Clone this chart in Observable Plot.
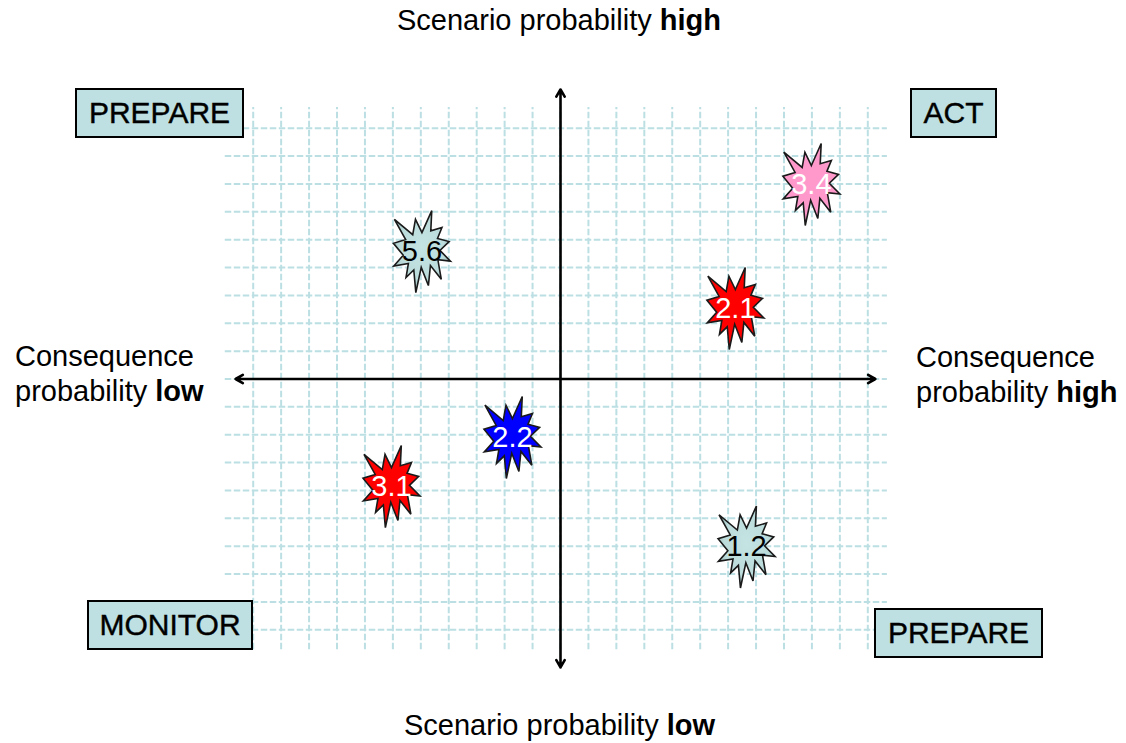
<!DOCTYPE html>
<html><head><meta charset="utf-8">
<script src="https://cdn.jsdelivr.net/npm/d3@7"></script>
<script src="https://cdn.jsdelivr.net/npm/@observablehq/plot@0.6"></script>
<style>
html,body{margin:0;padding:0;background:#fff;}
#wrap{position:relative;width:1126px;height:743px;overflow:hidden;font-family:"Liberation Sans",Arial,sans-serif;color:#000;}
#wrap svg{position:absolute;left:0;top:0;}
.t{position:absolute;white-space:nowrap;font-size:29px;line-height:35px;}
.box{position:absolute;box-sizing:border-box;background:#bee0e2;border:2px solid #000;display:flex;align-items:center;justify-content:center;font-size:30px;line-height:1;-webkit-text-stroke:0.4px #000;}
</style></head><body><div id="wrap"></div>
<script>
// Scenario points (consequence probability on x, scenario probability on y, in grid units)
const labels      = ["5.6", "3.4", "2.1", "2.2", "3.1", "1.2"];
const consequence = [-4.96, 8.98, 6.26, -1.72, -6.05, 6.66];
const scenario    = [4.57, 6.98, 2.53, -2.10, -3.86, -6.03];
const fills       = ["url(#lightBurst)", "#ff99cc", "#ff0000", "#0000ff", "#ff0000", "url(#lightBurst)"];
const inks        = ["#000", "#fff", "#fff", "#fff", "#fff", "#000"];
// Grid lines
const gridX = [-11,-10,-9,-8,-7,-6,-5,-4,-3,-2,-1,0,1,2,3,4,5,6,7,8,9,10,11];
const gridY = [-9,-8,-7,-6,-5,-4,-3,-2,-1,0,1,2,3,4,5,6,7,8,9];
// Quadrant labels
const quadrants = ["PREPARE", "ACT", "MONITOR", "PREPARE"];
// Axis titles
const topTitle = ["Scenario probability ", "high"];
const bottomTitle = ["Scenario probability ", "low"];
const leftTitle = ["Consequence", "probability ", "low"];
const rightTitle = ["Consequence", "probability ", "high"];

const data = labels.map((label, i) => ({label, x: consequence[i], y: scenario[i], fill: fills[i], ink: inks[i]}));

// "Explosion" burst outline (normalized 21600 units)
const seal = [[10800,5800],[14522,0],[14155,5325],[18380,4457],[16702,7315],[21097,8137],[17607,10475],[21600,13290],[16837,12942],[18145,18095],[14020,14457],[13247,19737],[10532,14935],[8485,21600],[7715,15627],[4762,17617],[5667,13937],[135,14587],[3722,11775],[0,8615],[4627,7617],[370,2295],[7312,6320],[8352,2295]];
const burst = {
  draw(ctx, size) {
    const r = Math.sqrt(size / Math.PI);
    const h = 2 * r, w = h * 0.695;
    seal.forEach(([px, py], i) => {
      const X = (px / 21600 - 0.5) * w, Y = (py / 21600 - 0.5) * h;
      if (i) ctx.lineTo(X, Y); else ctx.moveTo(X, Y);
    });
    ctx.closePath();
  }
};

const axisArrows = [
  {x1: 0, y1: 0, x2: 11.27, y2: 0},
  {x1: 0, y1: 0, x2: -11.63, y2: 0},
  {x1: 0, y1: 0, x2: 0, y2: 10.39},
  {x1: 0, y1: 0, x2: 0, y2: -10.35}
];

const chart = Plot.plot({
  width: 1126, height: 743, margin: 0,
  x: {domain: [-11, 11], range: [252.7, 867.3], axis: null},
  y: {domain: [-9, 9], range: [629.3, 127.7], axis: null},
  color: {type: "identity"},
  style: {background: "transparent", fontFamily: "Liberation Sans, Arial, sans-serif"},
  marks: [
    Plot.ruleX(gridX, {x: d => d, y1: -9.72, y2: 9.74, stroke: "#bcdfe3", strokeWidth: 2, strokeDasharray: "6.5,2.5"}),
    Plot.ruleY(gridY, {y: d => d, x1: -12.0, x2: 11.7, stroke: "#bcdfe3", strokeWidth: 2, strokeDasharray: "6.5,2.5"}),
    Plot.arrow(axisArrows, {x1: "x1", y1: "y1", x2: "x2", y2: "y2", stroke: "#000", strokeWidth: 2.6, headLength: 4.8}),
    Plot.dot(data, {x: "x", y: "y", r: 41, symbol: burst, fill: "fill", stroke: "#1a1a1a", strokeWidth: 1.6}),
    Plot.text(data, {x: "x", y: "y", text: "label", fill: "ink", fontSize: 29, ariaLabel: "burst labels"})
  ]
});
d3.select(chart).selectAll('g[aria-label="burst labels"] text').attr("letter-spacing", "3.5px").attr("dx", "1.5");
const grad = d3.select(chart).insert("defs", ":first-child")
  .append("radialGradient").attr("id", "lightBurst").attr("cx", "50%").attr("cy", "45%").attr("r", "60%");
grad.append("stop").attr("offset", "0%").attr("stop-color", "#c4e4e4");
grad.append("stop").attr("offset", "65%").attr("stop-color", "#bcdcdc");
grad.append("stop").attr("offset", "100%").attr("stop-color", "#8eaaaa");

const wrap = document.getElementById("wrap");
wrap.appendChild(chart);

function addText(parts, left, top) {
  const d = document.createElement("div");
  d.className = "t";
  d.style.left = left + "px"; d.style.top = top + "px";
  if (parts.length === 2) {
    d.innerHTML = parts[0] + "<b>" + parts[1] + "</b>";
  } else {
    d.innerHTML = parts[0] + "<br>" + parts[1] + "<b>" + parts[2] + "</b>";
  }
  wrap.appendChild(d);
}
addText(topTitle, 397, 3);
addText(bottomTitle, 404, 707.5);
addText(leftTitle, 15, 338.5);
addText(rightTitle, 916, 339.5);

const boxLayout = [
  {left: 75, top: 88, w: 169, h: 50},
  {left: 910, top: 88, w: 87, h: 50},
  {left: 87, top: 600, w: 166, h: 50},
  {left: 874, top: 608, w: 169, h: 50}
];
quadrants.forEach((q, i) => {
  const b = boxLayout[i];
  const d = document.createElement("div");
  d.className = "box";
  Object.assign(d.style, {left: b.left + "px", top: b.top + "px", width: b.w + "px", height: b.h + "px"});
  d.textContent = q;
  wrap.appendChild(d);
});
</script></body></html>
